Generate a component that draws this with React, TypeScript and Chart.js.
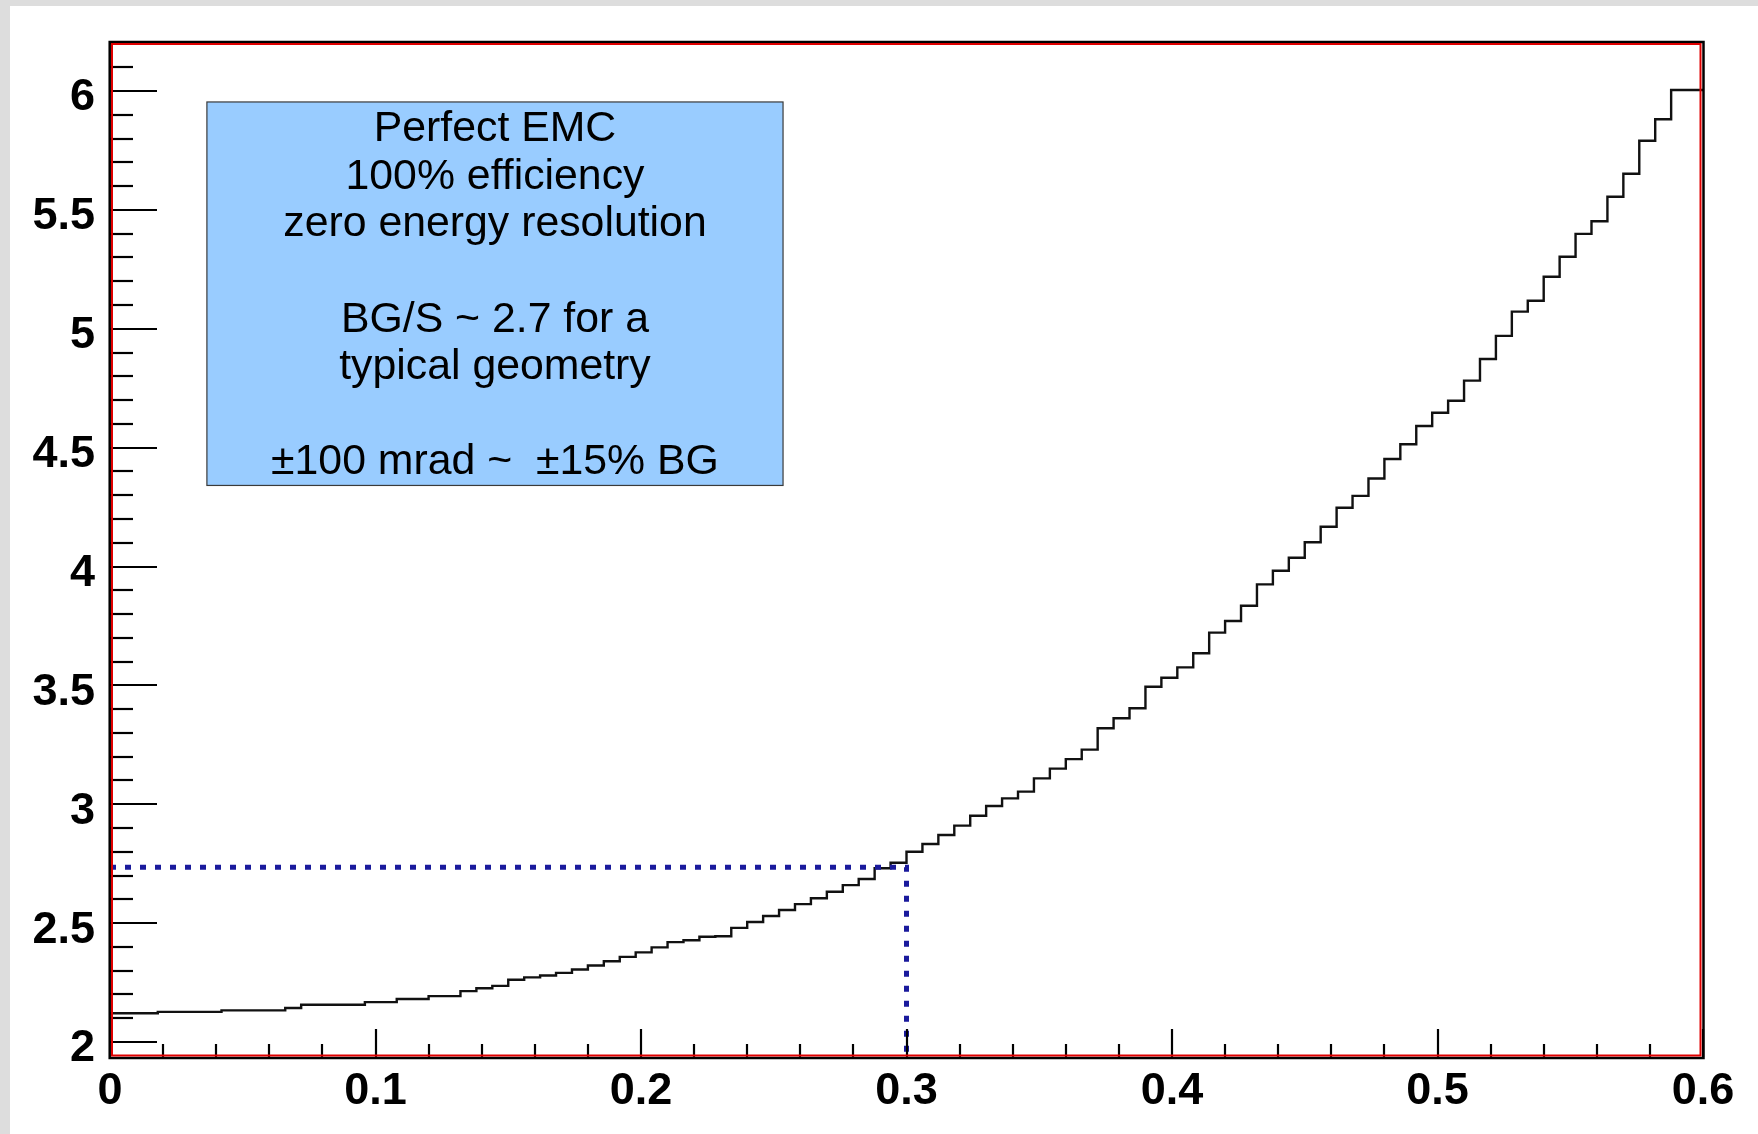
import React, { useEffect, useRef } from "react";
import { Chart, registerables } from "chart.js";

Chart.register(...registerables);

// ---- axis ranges ----
const X_MIN = 0;
const X_MAX = 0.6;
const Y_MIN = 1.937;
const Y_MAX = 6.202;

// ---- histogram contents (100 bins over [0, 0.6]) ----
const binValues = [
  2.121, 2.121, 2.121, 2.121, 2.127, 2.127, 2.127, 2.127, 2.133, 2.133,
  2.133, 2.133, 2.143, 2.157, 2.157, 2.157, 2.157, 2.168, 2.168, 2.181,
  2.181, 2.193, 2.193, 2.214, 2.226, 2.236, 2.262, 2.272, 2.28, 2.291,
  2.305, 2.322, 2.34, 2.358, 2.377, 2.398, 2.42, 2.428, 2.443, 2.445,
  2.48, 2.505, 2.53, 2.555, 2.58, 2.605, 2.632, 2.66, 2.686, 2.731,
  2.754, 2.8, 2.833, 2.871, 2.91, 2.952, 2.993, 3.025, 3.053, 3.109,
  3.15, 3.19, 3.23, 3.32, 3.362, 3.404, 3.494, 3.532, 3.576, 3.635,
  3.722, 3.771, 3.835, 3.925, 3.982, 4.037, 4.102, 4.167, 4.247, 4.297,
  4.37, 4.452, 4.514, 4.591, 4.647, 4.697, 4.782, 4.873, 4.97, 5.072,
  5.118, 5.219, 5.303, 5.399, 5.452, 5.555, 5.652, 5.791, 5.881, 6.004,
];

// ---- dotted cut lines ----
const cutX = [0, 0.3, 0.3];
const cutY = [2.735, 2.735, Y_MIN];

// ---- ticks ----
const xTickValues = [0, 0.1, 0.2, 0.3, 0.4, 0.5, 0.6];
const xTickLabels = ["0", "0.1", "0.2", "0.3", "0.4", "0.5", "0.6"];
const yTickValues = [2, 2.5, 3, 3.5, 4, 4.5, 5, 5.5, 6];
const yTickLabels = ["2", "2.5", "3", "3.5", "4", "4.5", "5", "5.5", "6"];
const X_MINOR_STEP = 0.02;
const Y_MINOR_STEP = 0.1;

// ---- text box ----
const boxLines = [
  "Perfect EMC",
  "100% efficiency",
  "zero energy resolution",
  "",
  "BG/S ~ 2.7 for a",
  "typical geometry",
  "",
  "\u00b1100 mrad ~  \u00b115% BG",
];
const BOX = { x0: 0.0365, x1: 0.2535, y0: 5.954, y1: 4.341 };

const FONT = "'Liberation Sans', Arial, Helvetica, sans-serif";

const rootPlugin = {
  id: "rootStyle",
  afterDatasetsDraw(chart: any) {
    const ctx = chart.ctx as CanvasRenderingContext2D;
    const a = chart.chartArea;
    const xs = chart.scales.x;
    const ys = chart.scales.y;
    ctx.save();
    // inward ticks
    ctx.strokeStyle = "#000";
    ctx.lineWidth = 2.2;
    const nx = Math.round((X_MAX - X_MIN) / X_MINOR_STEP);
    for (let i = 1; i <= nx; i++) {
      const v = X_MIN + i * X_MINOR_STEP;
      const major = i % 5 === 0;
      const px = Math.round(xs.getPixelForValue(v));
      ctx.beginPath();
      ctx.moveTo(px, a.bottom);
      ctx.lineTo(px, a.bottom - (major ? 28 : 13));
      ctx.stroke();
    }
    for (let i = 0; i <= 42; i++) {
      const v = 2 + i * Y_MINOR_STEP;
      if (v > Y_MAX) break;
      const major = i % 5 === 0;
      const py = Math.round(ys.getPixelForValue(v));
      ctx.beginPath();
      ctx.moveTo(a.left, py);
      ctx.lineTo(a.left + (major ? 47 : 23), py);
      ctx.stroke();
    }

    // text box
    const bx0 = xs.getPixelForValue(BOX.x0);
    const bx1 = xs.getPixelForValue(BOX.x1);
    const by0 = ys.getPixelForValue(BOX.y0);
    const by1 = ys.getPixelForValue(BOX.y1);
    ctx.fillStyle = "#99ccff";
    ctx.fillRect(bx0, by0, bx1 - bx0, by1 - by0);
    ctx.strokeStyle = "#3a3a3a";
    ctx.lineWidth = 1.2;
    ctx.strokeRect(bx0, by0, bx1 - bx0, by1 - by0);
    ctx.fillStyle = "#000";
    ctx.font = `42.8px ${FONT}`;
    ctx.textAlign = "center";
    ctx.textBaseline = "middle";
    const cx = (bx0 + bx1) / 2;
    boxLines.forEach((line, i) => {
      if (line) ctx.fillText(line, cx, by0 + 27.5 + i * 47.6);
    });

    // frame: black outside, red inside
    ctx.lineWidth = 2.5;
    ctx.strokeStyle = "#000";
    ctx.strokeRect(a.left - 0.3, a.top - 1, a.right - a.left + 0.8, a.bottom - a.top + 2);
    ctx.lineWidth = 2;
    ctx.strokeStyle = "#e00000";
    ctx.strokeRect(a.left + 2, a.top + 1, a.right - a.left - 4.5, a.bottom - a.top - 2.5);
    ctx.restore();
  },
};

export default function App() {
  const ref = useRef<HTMLCanvasElement>(null);

  useEffect(() => {
    const canvas = ref.current;
    if (!canvas) return;
    const n = binValues.length;
    const histData = binValues.map((v, i) => ({
      x: X_MIN + ((X_MAX - X_MIN) * i) / n,
      y: v,
    }));
    histData.push({ x: X_MAX, y: binValues[n - 1] });
    const cutData = cutX.map((x, i) => ({ x, y: cutY[i] }));

    const chart = new Chart(canvas, {
      type: "line",
      data: {
        datasets: [
          {
            data: cutData,
            borderColor: "#1a1a9c",
            borderWidth: 5,
            borderDash: [6, 9],
            pointRadius: 0,
            fill: false,
            tension: 0,
          },
          {
            data: histData,
            stepped: "after",
            borderColor: "#111",
            borderWidth: 2.4,
            pointRadius: 0,
            fill: false,
          },
        ],
      },
      options: {
        responsive: false,
        devicePixelRatio: 1,
        animation: false,
        events: [],
        layout: { padding: { left: 0, top: 43, right: 55, bottom: 0 } },
        plugins: {
          legend: { display: false },
          tooltip: { enabled: false },
        },
        scales: {
          x: {
            type: "linear",
            min: X_MIN,
            max: X_MAX,
            afterBuildTicks: (s: any) => {
              s.ticks = xTickValues.map((v) => ({ value: v }));
            },
            afterFit: (s: any) => {
              s.height = 77;
            },
            grid: { display: false, drawTicks: false },
            border: { display: false },
            ticks: {
              autoSkip: false,
              maxRotation: 0,
              padding: 8,
              color: "#000",
              font: { family: FONT, weight: "bold", size: 45 },
              callback: (_v: any, i: number) => xTickLabels[i],
            },
          },
          y: {
            type: "linear",
            min: Y_MIN,
            max: Y_MAX,
            afterBuildTicks: (s: any) => {
              s.ticks = yTickValues.map((v) => ({ value: v }));
            },
            afterFit: (s: any) => {
              s.width = 110;
            },
            grid: { display: false, drawTicks: false },
            border: { display: false },
            ticks: {
              autoSkip: false,
              padding: 15,
              labelOffset: 7,
              color: "#000",
              font: { family: FONT, weight: "bold", size: 45 },
              callback: (_v: any, i: number) => yTickLabels[i],
            },
          },
        },
      } as any,
      plugins: [rootPlugin],
    });
    return () => chart.destroy();
  }, []);

  return (
    <div
      style={{
        position: "fixed",
        left: 0,
        top: 0,
        width: 1758,
        height: 1134,
        background: "#dddddd",
        overflow: "hidden",
      }}
    >
      <div
        style={{
          position: "absolute",
          left: 10,
          top: 6,
          width: 1748,
          height: 1128,
          background: "#ffffff",
        }}
      />
      <canvas
        ref={ref}
        width={1758}
        height={1134}
        style={{ position: "absolute", left: 0, top: 0, width: 1758, height: 1134 }}
      />
    </div>
  );
}
